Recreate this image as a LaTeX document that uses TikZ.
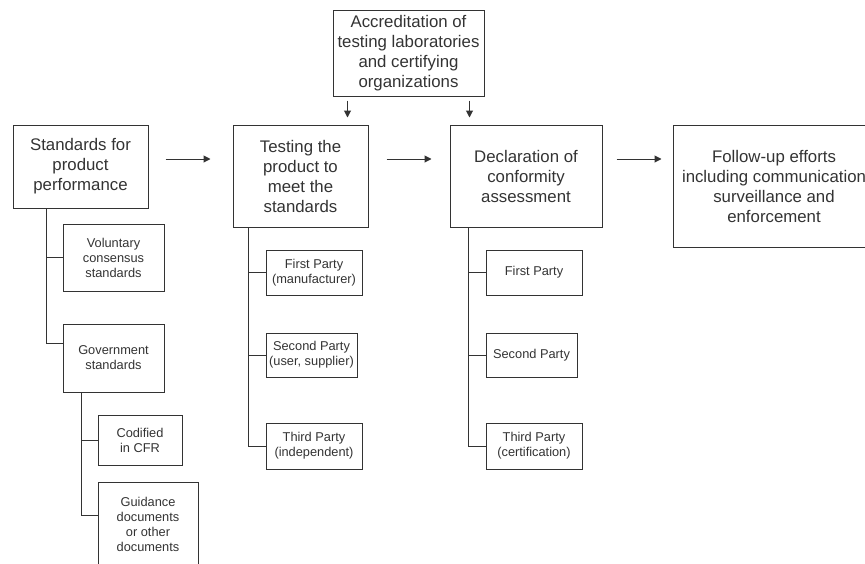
\documentclass[tikz,border=0pt]{standalone}
\usepackage{fontspec}
\setmainfont{Liberation Sans}
\usetikzlibrary{arrows.meta}

\begin{document}
\begin{tikzpicture}[x=1pt,y=-1pt,line width=1pt,color=black!80,
	main/.style={draw,align=center,inner sep=0pt,font=\fontsize{16.8}{20}\selectfont},
	sub/.style={draw,align=center,inner sep=0pt,font=\fontsize{12.8}{15}\selectfont},
	arr/.style={-{Triangle[length=7pt,width=7pt]}}]
	\useasboundingbox (0,0) rectangle (865,563);
	\node[main,minimum width=151pt,minimum height=86pt] (N0) at (408.5,53) {Accreditation of\\testing laboratories\\and certifying\\organizations};
	\node[main,minimum width=135pt,minimum height=83pt] (N1) at (80.5,166.5) {Standards for\\product\\performance};
	\node[main,minimum width=135pt,minimum height=102pt] (N2) at (300.5,176) {Testing the\\product to\\meet the\\standards};
	\node[main,minimum width=152pt,minimum height=102pt] (N3) at (526,176) {Declaration of\\conformity\\assessment};
	\node[main,minimum width=202pt,minimum height=122pt] (N4) at (774,186) {Follow-up efforts\\including communication\\surveillance and\\enforcement};
	\node[sub,minimum width=101pt,minimum height=67pt] (N5) at (113.5,257.5) {Voluntary\\consensus\\standards};
	\node[sub,minimum width=101pt,minimum height=68pt] (N6) at (113.5,358) {Government\\standards};
	\node[sub,minimum width=84pt,minimum height=50pt] (N7) at (140,440) {Codified\\in CFR};
	\node[sub,minimum width=100pt,minimum height=84pt] (N8) at (148,524) {Guidance\\documents\\or other\\documents};
	\node[sub,minimum width=96pt,minimum height=45pt] (N9) at (314,272.5) {First Party\\(manufacturer)};
	\node[sub,minimum width=91pt,minimum height=44pt] (N10) at (311.5,355) {Second Party\\(user, supplier)};
	\node[sub,minimum width=96pt,minimum height=46pt] (N11) at (314,446) {Third Party\\(independent)};
	\node[sub,minimum width=96pt,minimum height=45pt] (N12) at (534,272.5) {First Party};
	\node[sub,minimum width=91pt,minimum height=44pt] (N13) at (531.5,355) {Second Party};
	\node[sub,minimum width=96pt,minimum height=46pt] (N14) at (534,446) {Third Party\\(certification)};
	\draw ([xshift=34pt]N1.south west) |- (N5.west)
	      ([xshift=34pt]N1.south west) |- ([yshift=15pt]N6.west);
	\draw ([xshift=19pt]N6.south west) |- (N7.west)
	      ([xshift=19pt]N6.south west) |- ([yshift=9pt]N8.west);
	\draw ([xshift=16pt]N2.south west) |- (N9.west)
	      ([xshift=16pt]N2.south west) |- (N10.west)
	      ([xshift=16pt]N2.south west) |- (N11.west);
	\draw ([xshift=19pt]N3.south west) |- (N12.west)
	      ([xshift=19pt]N3.south west) |- (N13.west)
	      ([xshift=19pt]N3.south west) |- (N14.west);
	\draw[arr,shorten <=17pt,shorten >=22pt] ([yshift=7.5pt]N1.east) -- ([yshift=7.5pt]N1.east -| N2.west);
	\draw[arr,shorten <=18pt,shorten >=18pt] ([yshift=17pt]N2.east) -- ([yshift=17pt]N2.east -| N3.west);
	\draw[arr,shorten <=14pt,shorten >=11pt] ([yshift=17pt]N3.east) -- ([yshift=17pt]N3.east -| N4.west);
	\draw[arr,shorten <=4pt,shorten >=7pt] ([xshift=15pt]N0.south west) -- ([xshift=15pt]N0.south west |- N2.north);
	\draw[arr,shorten <=4pt,shorten >=7pt] ([xshift=-15pt]N0.south east) -- ([xshift=-15pt]N0.south east |- N3.north);
\end{tikzpicture}
\end{document}
